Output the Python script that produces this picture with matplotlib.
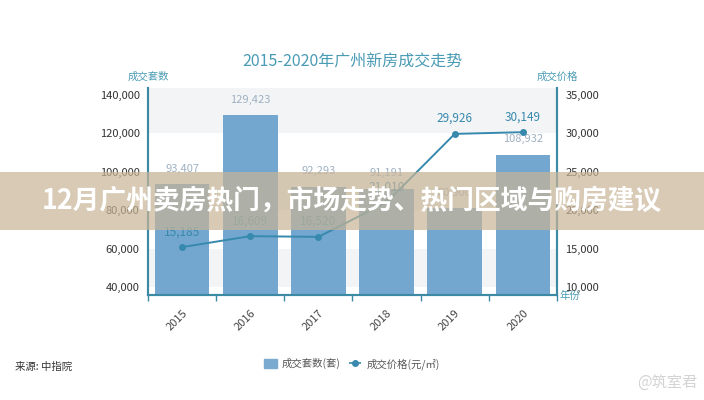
import matplotlib.pyplot as plt
from matplotlib.patches import Rectangle
from matplotlib.lines import Line2D
from matplotlib.patches import Patch

plt.rcParams['font.family'] = ['Noto Sans CJK SC', 'DejaVu Sans']

# Data
years = ['2015', '2016', '2017', '2018', '2019', '2020']
counts = [93407, 129423, 92293, 91191, 80900, 108932]
prices = [15185, 16609, 16520, 21010, 29926, 30149]
left_ticks = [40000, 60000, 80000, 100000, 120000, 140000]
right_ticks = [10000, 15000, 20000, 25000, 30000, 35000]

teal = '#3d8aa5'
bar_color = '#74a7d0'
line_color = '#3789ad'

fig = plt.figure(figsize=(7.04, 4.0), dpi=100)
ax = fig.add_axes([148 / 704, 1 - 295 / 400, 409 / 704, 207 / 400])
ax2 = ax.twinx()

ax.set_ylim(35800, 143600)
ax2.set_ylim(8950, 35900)
ax.set_xlim(-0.5, len(years) - 0.5)

# Alternating background bands
for lo, hi in [(120000, 143600), (80000, 100000), (40000, 60000)]:
    ax.axhspan(lo, hi, color='#f3f4f6', zorder=0, lw=0)

x = list(range(len(years)))
ax.bar(x, counts, width=0.8, color=bar_color, zorder=2)
for xi, c in zip(x, counts):
    ax.annotate(f'{c:,}', (xi, c), xytext=(0, 11), textcoords='offset points',
                ha='center', va='center', fontsize=8, color='#9fb1c2')

ax2.plot(x, prices, color=line_color, lw=1.4, marker='o', ms=4, zorder=3)
for xi, p in zip(x, prices):
    ax2.annotate(f'{p:,}', (xi, p), xytext=(0, 11), textcoords='offset points',
                 ha='center', va='center', fontsize=8.5, color=line_color)

# Axes styling
for a in (ax, ax2):
    a.spines['top'].set_visible(False)
    for s in ('left', 'right', 'bottom'):
        a.spines[s].set_color(teal)
        a.spines[s].set_linewidth(1.5)
ax.set_yticks(left_ticks)
ax.set_yticklabels([f'{t:,}' for t in left_ticks])
ax2.set_yticks(right_ticks)
ax2.set_yticklabels([f'{t:,}' for t in right_ticks])
ax.tick_params(axis='y', length=0, labelsize=8, labelcolor='#333333', pad=6)
ax2.tick_params(axis='y', length=0, labelsize=8, labelcolor='#333333', pad=6)

ax.set_xticks(x)
ax.set_xticklabels(years, rotation=45, ha='right', rotation_mode='anchor',
                   fontsize=8, color='#444444')
ax.tick_params(axis='x', which='major', length=0, pad=9)
ax.set_xticks([i - 0.5 for i in range(len(years) + 1)], minor=True)
ax.tick_params(axis='x', which='minor', length=4, color=teal, width=1)

# Titles and axis captions
fig.text(0.5, 1 - 62 / 400, '2015-2020年广州新房成交走势', ha='center', va='center',
         fontsize=11.5, color='#4a9bb5')
fig.text(148 / 704, 1 - 77 / 400, '成交套数', ha='center', va='center',
         fontsize=7.5, color='#4a9bb5')
fig.text(557 / 704, 1 - 77 / 400, '成交价格', ha='center', va='center',
         fontsize=7.5, color='#4a9bb5')
fig.text(560 / 704, 1 - 296 / 400, '年份', ha='left', va='center',
         fontsize=7.5, color='#4a9bb5')

# Legend
handles = [Patch(color='#7aaad0', label='成交套数(套)'),
           Line2D([], [], color=line_color, marker='o', ms=4, lw=1.2,
                  ls='--', label='成交价格(元/㎡)')]
fig.legend(handles=handles, loc='center', bbox_to_anchor=(0.5, 1 - 364 / 400),
           ncol=2, frameon=False, fontsize=7.5, handlelength=1.2,
           handleheight=0.9, columnspacing=0.8, handletextpad=0.5,
           labelcolor='#555555')

fig.text(15 / 704, 1 - 367 / 400, '来源: 中指院', ha='left', va='center',
         fontsize=7.5, color='#333333')
fig.text(697 / 704, 1 - 382 / 400, '@筑室君', ha='right', va='center',
         fontsize=11, color='#d4d4d4')

# Overlay banner
fig.patches.append(Rectangle((0, 1 - 230 / 400), 1, 58 / 400, transform=fig.transFigure,
                             facecolor='#c8b496', alpha=0.7, lw=0, zorder=10))
fig.text(0.5, 1 - 201 / 400, '12月广州卖房热门，市场走势、热门区域与购房建议',
         ha='center', va='center', fontsize=19.3, weight='bold', color='white',
         zorder=11)

fig.savefig('out.png', dpi=100)
